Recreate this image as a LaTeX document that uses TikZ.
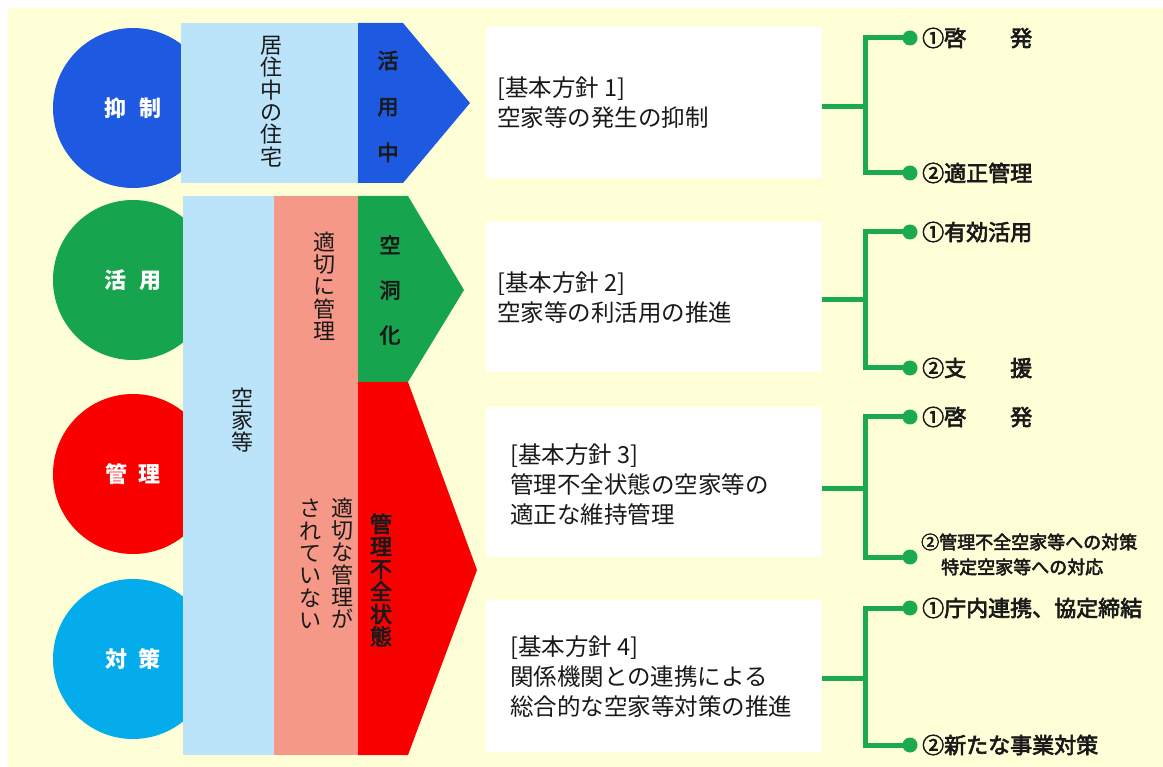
\documentclass[tikz,border=0pt]{standalone}
\usepackage{fontspec}
\setmainfont{Noto Sans CJK JP}
\newfontfamily\medfont{Noto Sans CJK JP}[FakeBold=3]
\definecolor{cream}{RGB}{255,255,215}
\definecolor{blueC}{RGB}{30,90,225}
\definecolor{greenC}{RGB}{22,165,78}
\definecolor{redC}{RGB}{250,0,0}
\definecolor{cyanC}{RGB}{5,172,235}
\definecolor{lightblueC}{RGB}{187,228,250}
\definecolor{salmonC}{RGB}{246,152,136}
\definecolor{lineG}{RGB}{28,170,80}
\definecolor{txt}{RGB}{25,25,25}
\begin{document}
\begin{tikzpicture}[x=1pt,y=-1pt,
  circ/.style={circle,minimum size=160,inner sep=0,text=white,font=\fontsize{22}{22}\selectfont\bfseries},
  pbox/.style={fill=white,minimum width=336,inner sep=0},
  ptext/.style={anchor=west,align=left,inner sep=0,text=txt,font=\fontsize{23.5}{30}\selectfont},
  vtext/.style={align=center,inner sep=0,text=txt,font=\fontsize{22}{22.3}\selectfont},
  vwide/.style={align=center,inner sep=0,text=txt,font=\fontsize{21}{46}\medfont},
  br/.style={draw=lineG,line width=5},
  lbl/.style={anchor=west,inner sep=0,text=txt,font=\fontsize{22}{22}\medfont}]
\useasboundingbox (0,0) rectangle (1163,767);
\fill[white] (0,0) rectangle (1163,767);
\fill[cream] (8,8) rectangle (1163,767);

% left circles
\node[circ,fill=blueC] (c1) at (133,108) {抑\hspace{14pt}制};
\node[circ,fill=greenC] (c2) at (133,280) {活\hspace{14pt}用};
\node[circ,fill=redC] (c3) at (133,474) {管\hspace{12pt}理};
\node[circ,fill=cyanC] (c4) at (133,659) {対\hspace{12pt}策};

% top band
\fill[lightblueC] (181,23) rectangle (358,183);
\fill[blueC] (358,23) -- (403,23) -- (470,103) -- (403,183) -- (358,183) -- cycle;
\node[vtext] (v1) at (271,101.5) {居\\住\\中\\の\\住\\宅};
\node[vwide] (v2) at (388,106.5) {活\\用\\中};

% lower columns
\fill[lightblueC] (183,196) rectangle (274,755);
\fill[salmonC] (274,196) rectangle (358,755);
\fill[greenC] (358,196) -- (408,196) -- (464,290) -- (408,382) -- (358,382) -- cycle;
\fill[redC] (358,382) -- (408,382) -- (477,570) -- (408,755) -- (358,755) -- cycle;
\node[vtext] (v3) at (242,420) {空\\家\\等};
\node[vtext] (v4) at (324,286) {適\\切\\に\\管\\理};
\node[vwide,font=\fontsize{21}{45}\medfont] (v5) at (390,290) {空\\洞\\化};
\node[vtext] (v6) at (342,563) {適\\切\\な\\管\\理\\が};
\node[vtext] (v7) at (310,564) {さ\\れ\\て\\い\\な\\い};
\node[vtext,font=\fontsize{22}{22.5}\medfont] (v8) at (381,580) {管\\理\\不\\全\\状\\態};

% policy boxes
\node[pbox,minimum height=151] (b1) at (654,102.5) {};
\node[pbox,minimum height=150] (b2) at (654,297) {};
\node[pbox,minimum height=150] (b3) at (654,482) {};
\node[pbox,minimum height=152] (b4) at (654,676) {};
\node[ptext] (t1) at (497,103) {[基本方針 1]\\空家等の発生の抑制};
\node[ptext] (t2) at (497,298) {[基本方針 2]\\空家等の利活用の推進};
\node[ptext] (t3) at (510,485) {[基本方針 3]\\管理不全状態の空家等の\\適正な維持管理};
\node[ptext] (t4) at (510,677) {[基本方針 4]\\関係機関との連携による\\総合的な空家等対策の推進};

% branches
\coordinate (j1) at (865,107);
\coordinate (j2) at (865,300);
\coordinate (j3) at (865,488);
\coordinate (j4) at (865,678);
\coordinate (d1a) at (910,38);
\coordinate (d1b) at (910,173);
\coordinate (d2a) at (910,232);
\coordinate (d2b) at (910,368);
\coordinate (d3a) at (910,417);
\coordinate (d3b) at (910,557);
\coordinate (d4a) at (910,608);
\coordinate (d4b) at (910,745);
\draw[br] (b1.east |- j1) -- (j1);
\draw[br] (d1a) -| (j1) |- (d1b);
\draw[br] (b2.east |- j2) -- (j2);
\draw[br] (d2a) -| (j2) |- (d2b);
\draw[br] (b3.east |- j3) -- (j3);
\draw[br] (d3a) -| (j3) |- (d3b);
\draw[br] (b4.east |- j4) -- (j4);
\draw[br] (d4a) -| (j4) |- (d4b);
\foreach \d in {d1a,d1b,d2a,d2b,d3a,d3b,d4a,d4b} \fill[lineG] (\d) circle (7.5);

\node[lbl] (l1a) at (922,38) {①啓　　発};
\node[lbl] (l1b) at (922,173) {②適正管理};
\node[lbl] (l2a) at (922,232) {①有効活用};
\node[lbl] (l2b) at (922,368) {②支　　援};
\node[lbl] (l3a) at (922,417) {①啓　　発};
\node[lbl,align=left,font=\fontsize{18}{25}\medfont] (l3b) at (921,554.5) {②管理不全空家等への対策\\\hspace{20pt}特定空家等への対応};
\node[lbl] (l4a) at (922,608) {①庁内連携、協定締結};
\node[lbl] (l4b) at (922,745) {②新たな事業対策};
\end{tikzpicture}
\end{document}
